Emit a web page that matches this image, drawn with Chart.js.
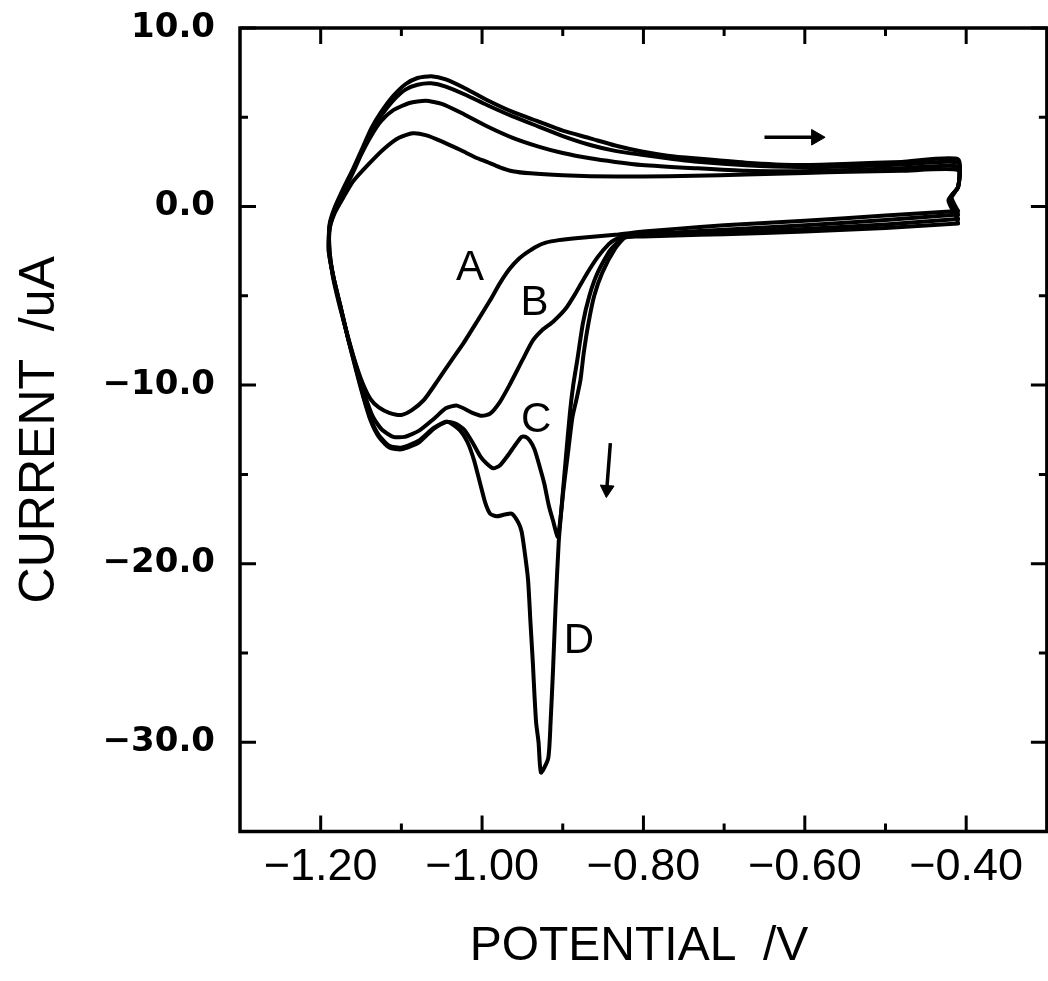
<!DOCTYPE html>
<html><head><meta charset="utf-8">
<script src="https://cdn.jsdelivr.net/npm/chart.js@4.4.0/dist/chart.umd.min.js"></script>
<style>html,body{margin:0;padding:0;background:#fff;}canvas{display:block;}</style>
</head><body>
<canvas id="c" width="1048" height="981"></canvas>
<script>
// ---- data (potential V, current uA), each loop starts at the -0.41 V turn ----
const curveA = [
 [-0.410,-0.25],[-0.50,-0.50],[-0.60,-0.80],[-0.70,-1.05],[-0.76,-1.25],[-0.80,-1.40],[-0.835,-1.58],[-0.884,-1.77],[-0.905,-1.88],[-0.921,-2.02],[-0.933,-2.25],[-0.945,-2.6],[-0.955,-2.95],[-0.966,-3.5],[-0.978,-4.3],[-0.990,-5.25],[-1.005,-6.35],[-1.023,-7.65],[-1.040,-8.75],[-1.055,-9.75],[-1.072,-10.83],[-1.087,-11.4],[-1.100,-11.67],[-1.115,-11.55],[-1.128,-11.25],[-1.138,-10.8],[-1.148,-9.9],[-1.158,-8.6],[-1.168,-7.0],[-1.178,-5.3],[-1.185,-3.9],[-1.189,-2.5],[-1.189,-1.3],
 [-1.183,-0.4],[-1.172,0.5],[-1.160,1.4],[-1.140,2.4],[-1.121,3.25],[-1.103,3.85],[-1.086,4.10],[-1.070,4.0],[-1.050,3.65],[-1.026,3.15],[-1.008,2.75],[-0.994,2.5],[-0.978,2.2],[-0.962,1.98],[-0.940,1.86],[-0.900,1.75],[-0.866,1.70],[-0.800,1.68],[-0.737,1.72],[-0.673,1.80],[-0.600,1.88],[-0.544,1.95],[-0.480,2.0],[-0.410,2.05],
 [-0.410,1.1],[-0.418,0.5],[-0.412,-0.1],[-0.410,-0.25]
];
const curveB = [
 [-0.410,-0.45],[-0.50,-0.75],[-0.60,-1.05],[-0.70,-1.30],[-0.76,-1.45],[-0.80,-1.55],[-0.823,-1.65],[-0.835,-1.85],[-0.843,-2.1],[-0.857,-2.85],[-0.872,-3.9],[-0.884,-4.85],[-0.896,-5.7],[-0.912,-6.45],[-0.925,-6.9],[-0.937,-7.5],[-0.950,-8.6],[-0.966,-10.0],[-0.978,-10.95],[-0.990,-11.6],[-1.000,-11.72],[-1.012,-11.55],[-1.031,-11.15],[-1.045,-11.3],[-1.060,-11.9],[-1.078,-12.55],[-1.096,-12.9],[-1.110,-12.9],[-1.124,-12.5],[-1.135,-11.8],[-1.145,-10.6],[-1.155,-9.1],[-1.166,-7.4],[-1.176,-5.5],[-1.184,-4.0],[-1.189,-2.5],[-1.189,-1.2],
 [-1.183,-0.3],[-1.172,0.8],[-1.160,1.9],[-1.150,2.9],[-1.137,4.0],[-1.125,4.8],[-1.110,5.4],[-1.090,5.8],[-1.070,5.92],[-1.050,5.75],[-1.026,5.25],[-0.994,4.5],[-0.962,3.85],[-0.930,3.36],[-0.900,3.0],[-0.866,2.7],[-0.835,2.5],[-0.802,2.33],[-0.737,2.15],[-0.673,2.0],[-0.609,1.98],[-0.544,2.05],[-0.480,2.15],[-0.410,2.24],
 [-0.410,1.1],[-0.420,0.45],[-0.412,-0.2],[-0.410,-0.45]
];
const curveC = [
 [-0.410,-0.70],[-0.50,-1.0],[-0.60,-1.25],[-0.70,-1.45],[-0.76,-1.55],[-0.80,-1.62],[-0.823,-1.75],[-0.835,-2.35],[-0.851,-3.7],[-0.861,-5.0],[-0.868,-6.5],[-0.874,-8.2],[-0.878,-9.7],[-0.883,-10.8],[-0.888,-11.8],[-0.893,-13.6],[-0.899,-15.8],[-0.906,-18.5],
 [-0.912,-17.6],[-0.917,-16.8],[-0.923,-15.5],[-0.929,-14.5],[-0.935,-13.6],[-0.941,-13.1],[-0.946,-12.9],[-0.951,-12.9],[-0.958,-13.3],[-0.969,-14.0],[-0.978,-14.5],[-0.986,-14.66],[-0.994,-14.4],[-1.002,-14.0],[-1.012,-13.2],[-1.022,-12.5],[-1.033,-12.15],[-1.045,-12.05],[-1.060,-12.4],[-1.078,-13.1],[-1.100,-13.5],[-1.115,-13.4],[-1.128,-12.8],[-1.138,-11.9],[-1.147,-10.6],[-1.156,-9.1],[-1.166,-7.4],[-1.176,-5.5],[-1.184,-4.0],[-1.190,-2.5],[-1.189,-1.1],
 [-1.183,-0.2],[-1.172,0.9],[-1.160,2.0],[-1.150,3.0],[-1.137,4.3],[-1.125,5.1],[-1.110,5.95],[-1.095,6.55],[-1.080,6.82],[-1.063,6.9],[-1.045,6.72],[-1.020,6.25],[-0.994,5.69],[-0.962,5.05],[-0.930,4.48],[-0.900,3.95],[-0.866,3.45],[-0.835,3.12],[-0.802,2.9],[-0.770,2.7],[-0.737,2.52],[-0.673,2.32],[-0.609,2.22],[-0.544,2.25],[-0.480,2.35],[-0.410,2.45],
 [-0.410,1.1],[-0.421,0.4],[-0.412,-0.4],[-0.410,-0.70]
];
const curveD = [
 [-0.410,-0.95],[-0.50,-1.2],[-0.60,-1.4],[-0.70,-1.55],[-0.76,-1.62],[-0.80,-1.68],[-0.823,-1.72],[-0.841,-2.43],[-0.857,-3.73],[-0.867,-5.0],[-0.875,-6.53],[-0.882,-8.6],[-0.887,-10.0],[-0.891,-11.5],[-0.896,-14.0],[-0.901,-16.6],[-0.905,-18.8],[-0.909,-22.5],[-0.912,-25.9],[-0.915,-28.8],[-0.918,-30.9],[-0.927,-31.7],
 [-0.930,-30.0],[-0.933,-28.9],[-0.935,-27.4],[-0.937,-25.6],[-0.940,-23.3],[-0.943,-20.9],[-0.947,-19.4],[-0.951,-18.2],[-0.955,-17.7],[-0.963,-17.2],[-0.972,-17.25],[-0.982,-17.35],[-0.990,-17.2],[-0.996,-16.6],[-1.003,-15.4],[-1.010,-14.2],[-1.018,-13.2],[-1.028,-12.5],[-1.043,-12.05],[-1.060,-12.45],[-1.078,-13.2],[-1.100,-13.6],[-1.115,-13.5],[-1.128,-12.9],[-1.138,-12.0],[-1.147,-10.7],[-1.156,-9.2],[-1.166,-7.4],[-1.176,-5.5],[-1.184,-4.0],[-1.190,-2.5],[-1.189,-1.0],
 [-1.183,-0.1],[-1.172,1.0],[-1.160,2.1],[-1.150,3.1],[-1.137,4.4],[-1.125,5.3],[-1.110,6.2],[-1.095,6.85],[-1.080,7.2],[-1.063,7.3],[-1.045,7.12],[-1.020,6.6],[-0.994,5.97],[-0.962,5.3],[-0.930,4.76],[-0.900,4.25],[-0.866,3.82],[-0.835,3.42],[-0.802,3.08],[-0.770,2.85],[-0.737,2.7],[-0.673,2.46],[-0.609,2.33],[-0.544,2.4],[-0.480,2.5],[-0.410,2.65],
 [-0.410,1.1],[-0.422,0.35],[-0.412,-0.6],[-0.410,-0.95]
];
const curveLabels = ['A','B','C','D'];
const labelX = [-1.015,-0.935,-0.933,-0.880];
const labelY = [-3.45,-5.41,-11.95,-24.37];
const arrowRight = [[-0.650,3.88],[-0.588,3.88]];
const arrowRightTip = [-0.586,3.88];
const arrowDown = [[-0.841,-13.25],[-0.8452,-15.7]];
const arrowDownTip = [-0.8453,-15.85];
const xMin = -1.30, xMax = -0.311, xFrameRight = -0.30;
const yMin = -35, yMax = 10;
const xTickValues = [-1.20,-1.00,-0.80,-0.60,-0.40];
const xTickLabels = ['\u22121.20','\u22121.00','\u22120.80','\u22120.60','\u22120.40'];
const xMinorTicks = [-1.10,-0.90,-0.70,-0.50];
const yTickValues = [10,0,-10,-20,-30];
const yTickLabels = ['10.0','0.0','\u221210.0','\u221220.0','\u221230.0'];
const yMinorTicks = [5,-5,-15,-25];

const pts = a => a.map(([x,y]) => ({x,y}));
const lineDs = a => ({data: pts(a), showLine:true, borderColor:'#000', borderWidth:4, pointRadius:0, tension:0.2, fill:false, borderJoinStyle:'round', borderCapStyle:'round'});

const frame = {
  id:'frame',
  afterDatasetsDraw(chart){
    const {ctx, chartArea:{left,top,bottom}, scales:{x,y}} = chart;
    const right = x.getPixelForValue(xFrameRight);
    ctx.save();
    ctx.strokeStyle='#000';
    ctx.lineWidth=3.5;
    ctx.strokeRect(left,top,right-left,bottom-top);
    ctx.lineWidth=3;
    ctx.beginPath();
    const seg=(a,b,c,d)=>{ctx.moveTo(a,b);ctx.lineTo(c,d);};
    xTickValues.forEach(v=>{const p=x.getPixelForValue(v);seg(p,bottom,p,bottom-16);seg(p,top,p,top+16);});
    xMinorTicks.forEach(v=>{const p=x.getPixelForValue(v);seg(p,bottom,p,bottom-8);seg(p,top,p,top+8);});
    yTickValues.forEach(v=>{const p=y.getPixelForValue(v);seg(left,p,left+16,p);seg(right,p,right-16,p);});
    yMinorTicks.forEach(v=>{const p=y.getPixelForValue(v);seg(left,p,left+8,p);seg(right,p,right-8,p);});
    ctx.stroke();
    ctx.fillStyle='#000';
    ctx.font='42px "Liberation Sans"';
    ctx.textAlign='center';
    ctx.textBaseline='middle';
    curveLabels.forEach((t,i)=>ctx.fillText(t, x.getPixelForValue(labelX[i]), y.getPixelForValue(labelY[i])));
    ctx.restore();
  }
};

new Chart(document.getElementById('c'), {
  type:'scatter',
  data:{datasets:[
    lineDs(curveA), lineDs(curveB), lineDs(curveC), lineDs(curveD),
    {data:pts(arrowRight), showLine:true, borderColor:'#000', borderWidth:3.5, pointRadius:0, tension:0},
    {data:pts([arrowRightTip]), showLine:false, pointStyle:'triangle', pointRadius:9, rotation:90, backgroundColor:'#000', borderColor:'#000', borderWidth:1},
    {data:pts(arrowDown), showLine:true, borderColor:'#000', borderWidth:3.5, pointRadius:0, tension:0},
    {data:pts([arrowDownTip]), showLine:false, pointStyle:'triangle', pointRadius:8, rotation:184, backgroundColor:'#000', borderColor:'#000', borderWidth:1}
  ]},
  options:{
    responsive:false, animation:false, devicePixelRatio:1,
    layout:{padding:{left:0,right:0,top:28,bottom:0}},
    plugins:{legend:{display:false}, tooltip:{enabled:false}},
    scales:{
      x:{type:'linear', position:'bottom', min:xMin, max:xMax,
        afterBuildTicks:s=>{s.ticks = xTickValues.map(v=>({value:v}));},
        afterFit:s=>{s.height=149.5; s.paddingLeft=0; s.paddingRight=0;},
        grid:{display:false, drawTicks:false}, border:{display:false},
        ticks:{autoSkip:false, maxRotation:0, minRotation:0, padding:9, color:'#000',
          font:{family:"'Liberation Sans'", size:45}, callback:(v,i)=>xTickLabels[i]},
        title:{display:true, text:'POTENTIAL  /V', color:'#000', font:{family:"'Liberation Sans'", size:48}, padding:{top:0,bottom:5}}
      },
      y:{type:'linear', position:'left', min:yMin, max:yMax,
        afterBuildTicks:s=>{s.ticks = yTickValues.map(v=>({value:v}));},
        afterFit:s=>{s.width=240; s.paddingTop=0; s.paddingBottom=0;},
        grid:{display:false, drawTicks:false}, border:{display:false},
        ticks:{autoSkip:false, padding:25, color:'#000',
          font:{family:"'DejaVu Sans'", size:34, weight:'bold'}, callback:(v,i)=>yTickLabels[i]},
        title:{display:true, text:'CURRENT  /uA', color:'#000', font:{family:"'Liberation Sans'", size:50}, padding:{top:10,bottom:0}}
      }
    }
  },
  plugins:[frame]
});
</script>
</body></html>
